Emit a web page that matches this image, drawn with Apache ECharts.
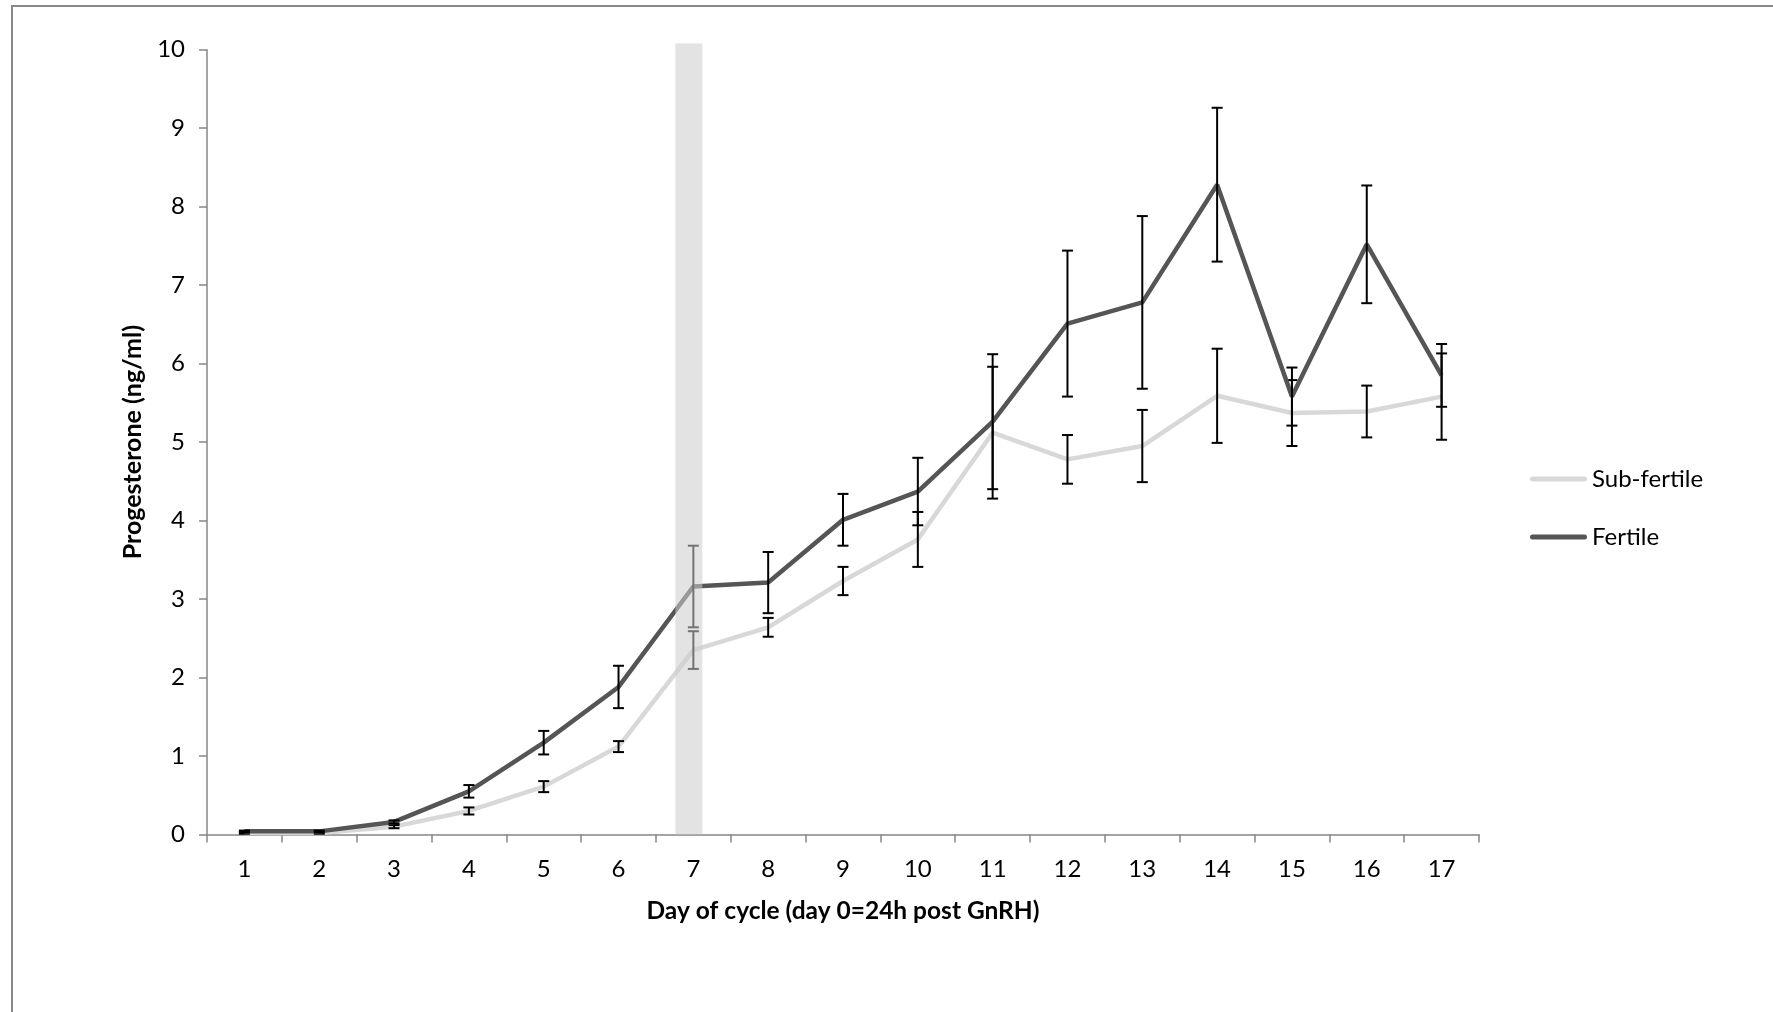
<!DOCTYPE html>
<html>
<head>
<meta charset="utf-8">
<script src="https://cdn.jsdelivr.net/npm/echarts@6/dist/echarts.min.js"></script>
<style>
html,body{margin:0;padding:0;background:#fff;}
#chart{width:1773px;height:1012px;}
</style>
</head>
<body>
<div id="chart"></div>
<script>
const days = ['1','2','3','4','5','6','7','8','9','10','11','12','13','14','15','16','17'];
const subFertile = [0.02,0.02,0.10,0.30,0.61,1.12,2.35,2.64,3.23,3.76,5.12,4.78,4.95,5.59,5.37,5.39,5.58];
const subFertileErr = [0.01,0.01,0.02,0.045,0.07,0.07,0.24,0.12,0.18,0.35,0.84,0.31,0.46,0.60,0.42,0.33,0.55];
const fertile = [0.04,0.04,0.16,0.55,1.17,1.88,3.16,3.21,4.01,4.37,5.26,6.51,6.78,8.28,5.58,7.52,5.85];
const fertileErr = [0.01,0.01,0.02,0.08,0.15,0.27,0.52,0.39,0.33,0.43,0.86,0.93,1.10,0.98,0.37,0.75,0.40];
const bandRange = [6.26, 6.62];   // in category-slot units (0..17)
const bandTop = 10.08;
const yTicks = {min:0, max:10, interval:1};

const FONT = 'Lato';
function errData(vals, errs){ return vals.map((v,i)=>[i, v-errs[i], v+errs[i]]); }
function errRender(params, api){
  const lo = api.coord([api.value(0), api.value(1)]);
  const hi = api.coord([api.value(0), api.value(2)]);
  const w = 5.5;
  const st = {stroke:'#000', lineWidth:2};
  return {type:'group', children:[
    {type:'line', shape:{x1:lo[0],y1:lo[1],x2:hi[0],y2:hi[1]}, style:st},
    {type:'line', shape:{x1:lo[0]-w,y1:lo[1],x2:lo[0]+w,y2:lo[1]}, style:st},
    {type:'line', shape:{x1:hi[0]-w,y1:hi[1],x2:hi[0]+w,y2:hi[1]}, style:st}
  ]};
}
const chart = echarts.init(document.getElementById('chart'), null, {renderer:'canvas'});
const legendIcon = 'path://M2.5,0 L54.5,0 A2.5,2.5 0 0 1 54.5,5 L2.5,5 A2.5,2.5 0 0 1 2.5,0 Z';
chart.setOption({
  animation:false,
  backgroundColor:'#fff',
  graphic:[{type:'rect', shape:{x:12,y:6,width:1800,height:1100}, style:{fill:'none', stroke:'#888', lineWidth:2}, silent:true}],
  grid:{left:207, right:294, top:49.7, bottom:177.5, containLabel:false},
  legend:{
    orient:'vertical', left:1525, top:461,
    itemWidth:57, itemHeight:5, itemGap:32, itemTextGap:3,
    icon: legendIcon,
    data:['Sub-fertile','Fertile'],
    textStyle:{fontFamily:FONT, fontSize:24, color:'#000', lineHeight:26}
  },
  xAxis:[{
    type:'category', data:days, boundaryGap:true,
    axisLine:{lineStyle:{color:'#868686', width:1.5}},
    axisTick:{show:true, length:8, lineStyle:{color:'#868686', width:1.5}},
    axisLabel:{fontFamily:FONT, fontSize:24, color:'#000', margin:23},
    name:'Day of cycle (day 0=24h post GnRH)', nameLocation:'middle', nameGap:64,
    nameTextStyle:{fontFamily:FONT, fontSize:24.5, fontWeight:'bold', color:'#000'}
  },{
    type:'value', min:0, max:17, show:false
  }],
  yAxis:{
    type:'value', min:yTicks.min, max:yTicks.max, interval:yTicks.interval,
    axisLine:{show:true, lineStyle:{color:'#868686', width:1.5}},
    axisTick:{show:true, length:8, lineStyle:{color:'#868686', width:1.5}},
    splitLine:{show:false},
    axisLabel:{fontFamily:FONT, fontSize:24, color:'#000', margin:22},
    name:'Progesterone (ng/ml)', nameLocation:'middle', nameGap:62,
    nameTextStyle:{fontFamily:FONT, fontSize:25, fontWeight:'bold', color:'#000'}
  },
  series:[
    {name:'Sub-fertile', type:'line', data:subFertile, symbol:'none', z:2,
     lineStyle:{color:'#d8d8d8', width:4.5}, itemStyle:{color:'#d8d8d8'}},
    {name:'Sub-fertile err', type:'custom', data:errData(subFertile, subFertileErr), renderItem:errRender, z:3, silent:true},
    {name:'Fertile', type:'line', data:fertile, symbol:'none', z:4,
     lineStyle:{color:'#555555', width:4.5}, itemStyle:{color:'#555555'}},
    {name:'Fertile err', type:'custom', data:errData(fertile, fertileErr), renderItem:errRender, z:5, silent:true},
    {name:'band', type:'custom', xAxisIndex:1, yAxisIndex:0, z:10, silent:true, clip:false,
     data:[[bandRange[0], bandRange[1]]],
     renderItem:function(params, api){
       const p1 = api.coord([api.value(0), bandTop]);
       const p2 = api.coord([api.value(1), 0]);
       return {type:'rect', shape:{x:p1[0], y:p1[1], width:p2[0]-p1[0], height:p2[1]-p1[1]},
               style:{fill:'rgba(205,205,205,0.56)'}};
     }}
  ]
});
</script>
</body>
</html>
